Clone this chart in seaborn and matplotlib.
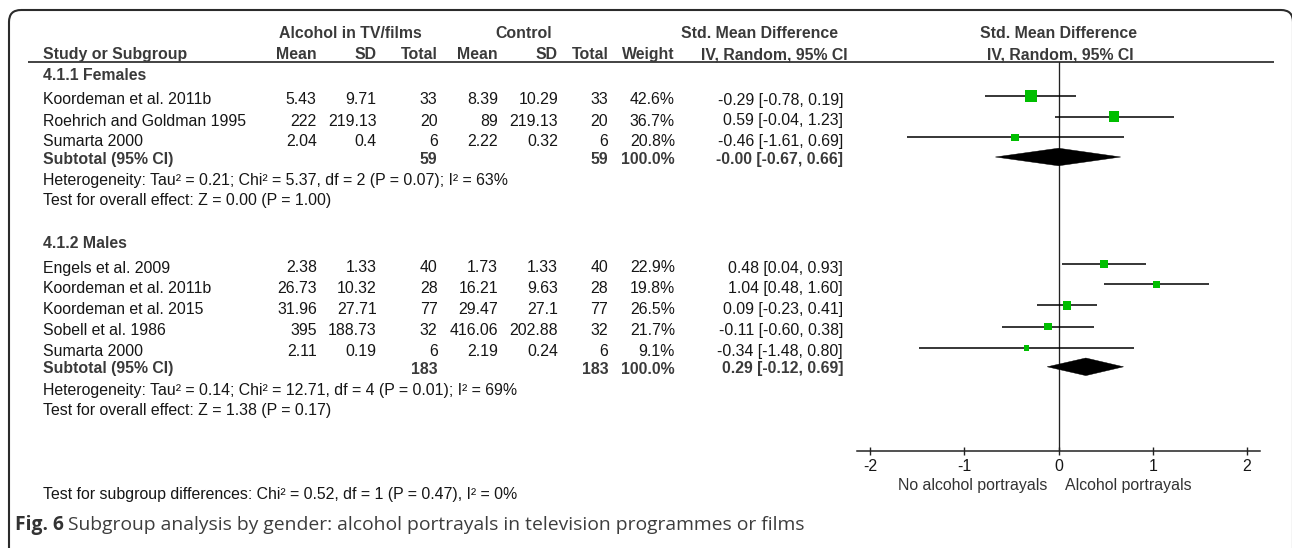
import numpy as np
import pandas as pd
import matplotlib
matplotlib.use("Agg")
import matplotlib.pyplot as plt
from matplotlib.patches import Polygon, FancyBboxPatch
import seaborn as sns

# ---------------- data ----------------
fem_study = ["Koordeman et al. 2011b", "Roehrich and Goldman 1995", "Sumarta 2000"]
fem_mean_e = [5.43, 222, 2.04]
fem_sd_e = [9.71, 219.13, 0.4]
fem_n_e = [33, 20, 6]
fem_mean_c = [8.39, 89, 2.22]
fem_sd_c = [10.29, 219.13, 0.32]
fem_n_c = [33, 20, 6]
fem_weight = [42.6, 36.7, 20.8]
fem_smd = [-0.29, 0.59, -0.46]
fem_lo = [-0.78, -0.04, -1.61]
fem_hi = [0.19, 1.23, 0.69]
fem_sub_n = [59, 59]
fem_sub_w = 100.0
fem_sub_ci = [-0.0, -0.67, 0.66]

mal_study = ["Engels et al. 2009", "Koordeman et al. 2011b", "Koordeman et al. 2015",
             "Sobell et al. 1986", "Sumarta 2000"]
mal_mean_e = [2.38, 26.73, 31.96, 395, 2.11]
mal_sd_e = [1.33, 10.32, 27.71, 188.73, 0.19]
mal_n_e = [40, 28, 77, 32, 6]
mal_mean_c = [1.73, 16.21, 29.47, 416.06, 2.19]
mal_sd_c = [1.33, 9.63, 27.1, 202.88, 0.24]
mal_n_c = [40, 28, 77, 32, 6]
mal_weight = [22.9, 19.8, 26.5, 21.7, 9.1]
mal_smd = [0.48, 1.04, 0.09, -0.11, -0.34]
mal_lo = [0.04, 0.48, -0.23, -0.60, -1.48]
mal_hi = [0.93, 1.60, 0.41, 0.38, 0.80]
mal_sub_n = [183, 183]
mal_sub_w = 100.0
mal_sub_ci = [0.29, -0.12, 0.69]

group_titles = ["4.1.1 Females", "4.1.2 Males"]
het_texts = ["Heterogeneity: Tau\u00b2 = 0.21; Chi\u00b2 = 5.37, df = 2 (P = 0.07); I\u00b2 = 63%",
             "Heterogeneity: Tau\u00b2 = 0.14; Chi\u00b2 = 12.71, df = 4 (P = 0.01); I\u00b2 = 69%"]
test_texts = ["Test for overall effect: Z = 0.00 (P = 1.00)",
              "Test for overall effect: Z = 1.38 (P = 0.17)"]
subgroup_text = "Test for subgroup differences: Chi\u00b2 = 0.52, df = 1 (P = 0.47), I\u00b2 = 0%"
x_ticks = [-2, -1, 0, 1, 2]
left_label = "No alcohol portrayals"
right_label = "Alcohol portrayals"
caption_bold = "Fig. 6"
caption_rest = "Subgroup analysis by gender: alcohol portrayals in television programmes or films"

# ---------------- layout (pixels from top-left) ----------------
W, H = 1292, 548
FONT = ["Liberation Sans", "DejaVu Sans"]
CAPFONT = ["Open Sans", "DejaVu Sans"]
REG = "#161616"
BOLD = "#3a3a3a"

col_right = {"me": 316.7, "sde": 376.7, "ne": 437.5, "mc": 498, "sdc": 558,
             "nc": 608.3, "w": 675, "ci": 843}
study_x = 42.7

sns.set_theme(style="white")
plt.rcParams["font.family"] = FONT

fig = plt.figure(figsize=(W / 100, H / 100), dpi=100)
renderer = fig.canvas.get_renderer()


def fit_size(text, family, weight, target_px, base=10.0):
    t = fig.text(0, 0, text, fontsize=base, family=family, weight=weight)
    w = t.get_window_extent(renderer).width
    t.remove()
    return base * target_px / w


FS = fit_size(test_texts[1], FONT, "normal", 289.0)
CFS = fit_size(caption_bold + " " + caption_rest, CAPFONT, "normal", 787.0)

bg = fig.add_axes([0, 0, 1, 1])
bg.set_xlim(0, W)
bg.set_ylim(H, 0)
bg.axis("off")


def txt(x, y, s, ha="left", bold=False, **kw):
    bg.text(x, y, s, ha=ha, va="baseline", fontsize=FS, family=FONT,
            weight="bold" if bold else "normal", color=BOLD if bold else REG, **kw)


# frame
frame = FancyBboxPatch((9, 10), 1284, 600, boxstyle="round,pad=0,rounding_size=12",
                       fill=False, ec="#2b2b2b", lw=1.5)
bg.add_patch(frame)

# headers
txt(350, 38.5, "Alcohol in TV/films", ha="center", bold=True)
txt(524, 38.5, "Control", ha="center", bold=True)
txt(759.5, 38.5, "Std. Mean Difference", ha="center", bold=True)
txt(1058, 38.5, "Std. Mean Difference", ha="center", bold=True)
txt(study_x, 59, "Study or Subgroup", bold=True)
for key, lab in [("me", "Mean"), ("sde", "SD"), ("ne", "Total"), ("mc", "Mean"),
                 ("sdc", "SD"), ("nc", "Total"), ("w", "Weight")]:
    txt(col_right[key], 59, lab, ha="right", bold=True)
txt(774, 59, "IV, Random, 95% CI", ha="center", bold=True)
txt(1060.5, 59, "IV, Random, 95% CI", ha="center", bold=True)
bg.plot([28, 1274], [62.3, 62.3], color="#222222", lw=1.2, solid_capstyle="butt")

groups = [
    dict(study=fem_study, me=fem_mean_e, sde=fem_sd_e, ne=fem_n_e, mc=fem_mean_c,
         sdc=fem_sd_c, nc=fem_n_c, w=fem_weight, smd=fem_smd, lo=fem_lo, hi=fem_hi,
         subn=fem_sub_n, subw=fem_sub_w, subci=fem_sub_ci,
         head_y=80, rows_y=[104.5, 125.5, 146], sub_y=164, het_y=185, test_y=205,
         f_rows=[95.7, 116.7, 137.3], f_sub=157),
    dict(study=mal_study, me=mal_mean_e, sde=mal_sd_e, ne=mal_n_e, mc=mal_mean_c,
         sdc=mal_sd_c, nc=mal_n_c, w=mal_weight, smd=mal_smd, lo=mal_lo, hi=mal_hi,
         subn=mal_sub_n, subw=mal_sub_w, subci=mal_sub_ci,
         head_y=248, rows_y=[272.5, 293.3, 314, 335, 355.7], sub_y=373.5, het_y=394.5,
         test_y=415, f_rows=[263.7, 284.3, 305.3, 326.7, 348], f_sub=366.8),
]


def ci_str(e, lo, hi):
    return f"{e:.2f} [{lo:.2f}, {hi:.2f}]"


for gi, g in enumerate(groups):
    txt(study_x, g["head_y"], group_titles[gi], bold=True)
    for i, y in enumerate(g["rows_y"]):
        txt(study_x, y, g["study"][i])
        for key in ["me", "sde", "mc", "sdc"]:
            txt(col_right[key], y, f"{g[key][i]:g}", ha="right")
        txt(col_right["ne"], y, str(g["ne"][i]), ha="right")
        txt(col_right["nc"], y, str(g["nc"][i]), ha="right")
        txt(col_right["w"], y, f"{g['w'][i]:.1f}%", ha="right")
        txt(col_right["ci"], y, ci_str(g["smd"][i], g["lo"][i], g["hi"][i]), ha="right")
    y = g["sub_y"]
    txt(study_x, y, "Subtotal (95% CI)", bold=True)
    txt(col_right["ne"], y, str(g["subn"][0]), ha="right", bold=True)
    txt(col_right["nc"], y, str(g["subn"][1]), ha="right", bold=True)
    txt(col_right["w"], y, f"{g['subw']:.1f}%", ha="right", bold=True)
    txt(col_right["ci"], y, ci_str(*g["subci"]), ha="right", bold=True)
    txt(study_x, g["het_y"], het_texts[gi])
    txt(study_x, g["test_y"], test_texts[gi])

txt(study_x, 499.5, subgroup_text)

# caption
cb = bg.text(15, 530, caption_bold, ha="left", va="baseline", fontsize=CFS, family=CAPFONT,
             weight="bold", color="#333333")
ext = cb.get_window_extent(renderer)
bg.text(15 + ext.width + CFS * 0.30, 530, caption_rest, ha="left", va="baseline",
        fontsize=CFS, family=CAPFONT, color="#3d3d3d")

# ---------------- forest plot ----------------
AX_L, AX_R, AX_T, AX_B = 857, 1260, 62.3, 451
UNIT = 94.25
ZERO = 1058.5
ax = fig.add_axes([AX_L / W, (H - AX_B) / H, (AX_R - AX_L) / W, (AX_B - AX_T) / H])
ax.set_xlim((AX_L - ZERO) / UNIT, (AX_R - ZERO) / UNIT)
ax.set_ylim(AX_B, AX_T)
ax.patch.set_alpha(0)
for s in ["top", "left", "right"]:
    ax.spines[s].set_visible(False)
ax.spines["bottom"].set_color("#222222")
ax.spines["bottom"].set_linewidth(1.1)
ax.set_yticks([])
ax.set_xticks(x_ticks)
ax.set_xticklabels([str(t) for t in x_ticks], fontsize=FS, family=FONT, color=REG)
ax.tick_params(axis="x", direction="inout", length=5.8, width=1.0, color="#222222", pad=3,
               bottom=True)
ax.axvline(0, color="#222222", lw=0.95, zorder=1)

rows = []
for g in groups:
    for i in range(len(g["smd"])):
        rows.append(dict(y=g["f_rows"][i], smd=g["smd"][i], lo=g["lo"][i], hi=g["hi"][i],
                         w=g["w"][i]))
df = pd.DataFrame(rows)
ax.hlines(df["y"], df["lo"], df["hi"], color="black", lw=1.1, zorder=2)
side_px = 3.2 + 0.2 * df["w"]
area = (side_px * 72 / 100) ** 2
sns.scatterplot(data=df, x="smd", y="y", marker="s", color="#00BE00", s=area.values,
                linewidth=0, ax=ax, zorder=3, legend=False)
ax.set_xlabel("")
ax.set_ylabel("")

for g in groups:
    e, lo, hi = g["subci"]
    yc = g["f_sub"]
    h = 8.8
    ax.add_patch(Polygon([(lo, yc), (e, yc - h), (hi, yc), (e, yc + h)], closed=True,
                         fc="black", ec="black", lw=0.3, zorder=3))

ax.text(-0.12, 490, left_label, ha="right", va="baseline", fontsize=FS, family=FONT,
        color="#333333", clip_on=False)
ax.text(0.07, 490, right_label, ha="left", va="baseline", fontsize=FS, family=FONT,
        color="#333333", clip_on=False)

fig.savefig("out.png", dpi=100)
